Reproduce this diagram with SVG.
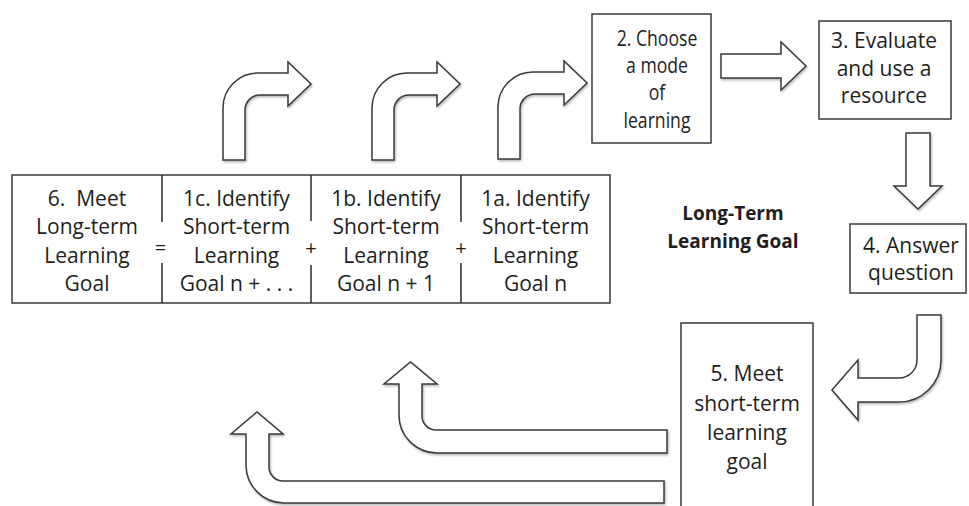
<svg xmlns="http://www.w3.org/2000/svg" width="969" height="506" viewBox="0 0 969 506">
<defs>
<filter id="sh" x="-10%" y="-10%" width="130%" height="130%">
<feDropShadow dx="1" dy="1.5" stdDeviation="1" flood-color="#000" flood-opacity="0.3"/>
</filter>
<style>
.box{fill:#fff;stroke:#3a3a3a;stroke-width:1.5}
.ln{stroke:#2a2a2a;stroke-width:1.5;fill:none}
.arr{fill:#fff;stroke:#3a3a3a;stroke-width:1.5;stroke-linejoin:miter;filter:url(#sh)}
.t{font-family:"Open Sans","DejaVu Sans",sans-serif;font-size:21px;fill:#1e1e1e;text-anchor:middle}
.op{font-family:"Open Sans","DejaVu Sans",sans-serif;font-size:20px;fill:#1e1e1e;text-anchor:middle}
.b{font-family:"Open Sans","DejaVu Sans",sans-serif;font-size:19px;font-weight:bold;fill:#1e1e1e;text-anchor:middle}
</style>
</defs>
<rect width="969" height="506" fill="#fff"/>

<g id="connectors">
<path id="arrow-1c" class="arr" d="M223,160 L223,108 A35,35 0 0 1 258,73 L288,73 L288,62 L311,84 L288,106 L288,95 L260,95 A15,15 0 0 0 245,110 L245,160 Z"/>
<path id="arrow-1b" class="arr" d="M372,160 L372,108 A35,35 0 0 1 407,73 L437,73 L437,62 L460,84 L437,106 L437,95 L409,95 A15,15 0 0 0 394,110 L394,160 Z"/>
<path id="arrow-1a" class="arr" d="M498,159 L498,107 A35,35 0 0 1 533,72 L564,72 L564,61 L587,83 L564,105 L564,94 L535,94 A15,15 0 0 0 520,109 L520,159 Z"/>
<path id="arrow-2-3" class="arr" d="M721,54 L781,54 L781,42 L806,66 L781,90 L781,78 L721,78 Z"/>
<path id="arrow-3-4" class="arr" d="M906,133 L930,133 L930,186 L942,186 L918,209 L894,186 L906,186 Z"/>
<path id="arrow-4-5" class="arr" d="M941,315 L941,360 A42,42 0 0 1 899,402 L858,402 L858,420 L832,390 L858,360 L858,378 L899,378 A18,18 0 0 0 917,360 L917,315 Z"/>
<path id="arrow-5-1b" class="arr" d="M667,430 L436,430 A14,14 0 0 1 422,416 L422,384 L437,384 L410.5,362 L384,384 L399,384 L399,415 A38,38 0 0 0 437,453 L667,453 Z"/>
<path id="arrow-5-1c" class="arr" d="M664,481 L283,481 A14,14 0 0 1 269,467 L269,434 L283,434 L257,412 L231,434 L246,434 L246,465 A38,38 0 0 0 284,503 L664,503 Z"/>
</g>

<g id="strip">
<rect class="box" x="12" y="175" width="598" height="128"/>
</g>

<g id="node-6">
<path class="ln" d="M162,175 V222 M162,263 V303"/>
<text class="t" x="87" y="205.5" style="white-space:pre">6.  Meet</text>
<text class="t" x="87" y="234">Long-term</text>
<text class="t" x="87" y="262.5">Learning</text>
<text class="t" x="87" y="291">Goal</text>
<text class="op" x="160.5" y="255">=</text>
</g>

<g id="node-1c">
<path class="ln" d="M311,175 V221 M311,265 V303"/>
<text class="t" x="236.5" y="205.5">1c. Identify</text>
<text class="t" x="236.5" y="234">Short-term</text>
<text class="t" x="236.5" y="262.5">Learning</text>
<text class="t" x="236.5" y="291">Goal n + . . .</text>
<text class="op" x="311" y="255">+</text>
</g>

<g id="node-1b">
<path class="ln" d="M461,175 V222 M461,263 V303"/>
<text class="t" x="386" y="205.5">1b. Identify</text>
<text class="t" x="386" y="234">Short-term</text>
<text class="t" x="386" y="262.5">Learning</text>
<text class="t" x="386" y="291">Goal n + 1</text>
<text class="op" x="461" y="255">+</text>
</g>

<g id="node-1a">
<text class="t" x="535.5" y="205.5">1a. Identify</text>
<text class="t" x="535.5" y="234">Short-term</text>
<text class="t" x="535.5" y="262.5">Learning</text>
<text class="t" x="535.5" y="291">Goal n</text>
</g>

<g id="node-2">
<rect class="box" x="592" y="14" width="119" height="129"/>
<g transform="translate(657 0) scale(0.84 1)">
<text class="t" x="0" y="46">2. Choose</text>
<text class="t" x="0" y="73">a mode</text>
<text class="t" x="0" y="100.5">of</text>
<text class="t" x="0" y="128">learning</text>
</g>
</g>

<g id="node-3">
<rect class="box" x="819" y="21" width="132" height="98"/>
<text class="t" x="884" y="48">3. Evaluate</text>
<text class="t" x="884" y="76">and use a</text>
<text class="t" x="884" y="103">resource</text>
</g>

<g id="node-4">
<rect class="box" x="850" y="224" width="116" height="69"/>
<text class="t" x="911" y="253">4. Answer</text>
<text class="t" x="911" y="280">question</text>
</g>

<g id="node-5">
<rect class="box" x="681" y="323" width="132" height="210"/>
<text class="t" x="747" y="381">5. Meet</text>
<text class="t" x="747" y="411">short-term</text>
<text class="t" x="747" y="440">learning</text>
<text class="t" x="747" y="469">goal</text>
</g>

<g id="label-goal">
<text class="b" x="733" y="220">Long-Term</text>
<text class="b" x="733" y="248">Learning Goal</text>
</g>
</svg>
